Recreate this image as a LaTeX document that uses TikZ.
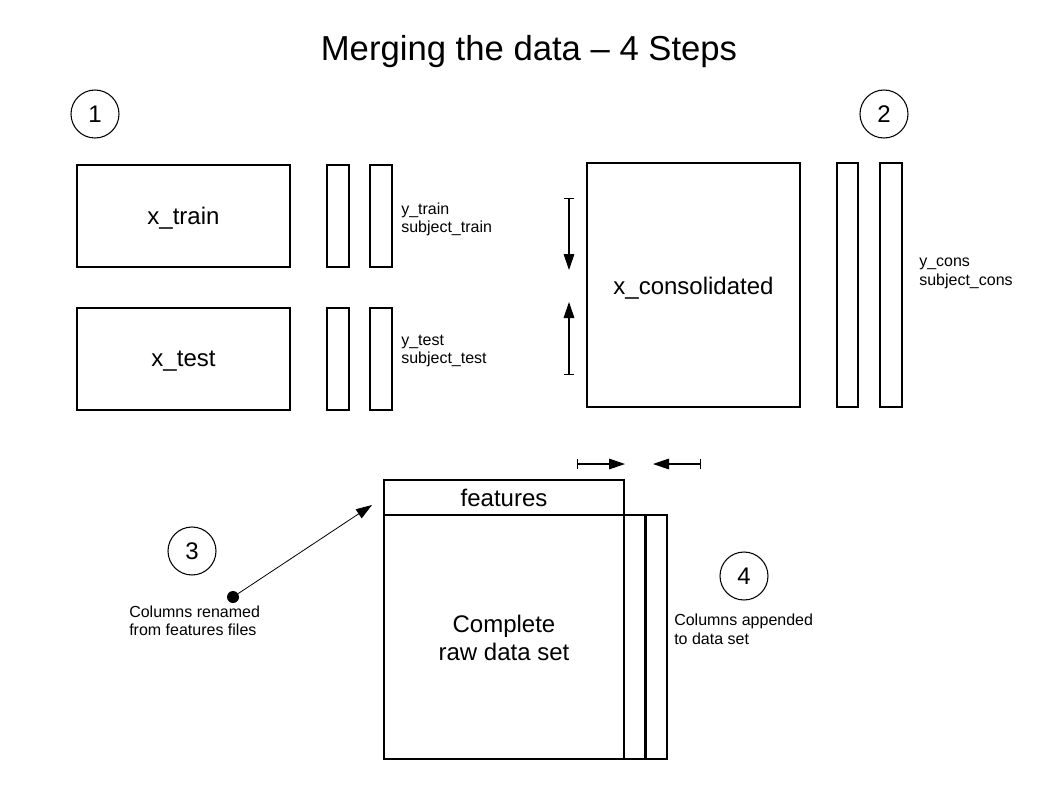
\documentclass[tikz,border=0pt]{standalone}
\usepackage{fontspec}
\setmainfont{Liberation Sans}
\usetikzlibrary{arrows.meta}
\begin{document}
\begin{tikzpicture}[x=0.75pt,y=-0.75pt,
  box/.style={draw,line width=0.9pt},
  num/.style={draw,circle,line width=0.8pt,minimum size=36pt,inner sep=0pt,font=\fontsize{18}{21}\selectfont},
  big/.style={font=\fontsize{18}{21}\selectfont},
  small/.style={font=\fontsize{12}{14}\selectfont,align=left,anchor=west,inner sep=0pt},
  arr/.style={line width=0.8pt,{Bar[width=7pt]}-{Triangle[length=12pt,width=8pt]}}]
\useasboundingbox (0,0) rectangle (1058,794);
\node[font=\fontsize{26}{30}\selectfont] (title) at (529,52) {Merging the data -- 4 Steps};
\node[num] (n1) at (95,114) {1};
\node[num] (n2) at (884,114) {2};
\node[num] (n3) at (192,551) {3};
\node[num] (n4) at (744,576) {4};
% step 1
\draw[box] (77,165) rectangle (290,267);
\node[big] (xtrain) at (183.5,218) {x\_train};
\draw[box] (77,308) rectangle (290,410);
\node[big] (xtest) at (183.5,361) {x\_test};
\draw[box] (327,165) rectangle (349,267);
\draw[box] (370,165) rectangle (392,267);
\draw[box] (327,308) rectangle (349,410);
\draw[box] (370,308) rectangle (392,410);
\node[small] (ytr) at (401,210) {y\_train};
\node[small] (str) at (401,228) {subject\_train};
\node[small] (yte) at (401,342) {y\_test};
\node[small] (ste) at (401,359) {subject\_test};
% step 2
\draw[box] (587,163) rectangle (800,407);
\node[big] (xcons) at (693.5,288) {x\_consolidated};
\draw[box] (837,163) rectangle (858,407);
\draw[box] (880,163) rectangle (902,407);
\node[small] (ycons) at (919,264) {y\_cons};
\node[small] (scons) at (919,281) {subject\_cons};
\coordinate (a1s) at (569,198); \coordinate (a1e) at (569,270);
\coordinate (a2s) at (569,375); \coordinate (a2e) at (569,302);
\draw[arr] (a1s) -- (a1e);
\draw[arr] (a2s) -- (a2e);
\coordinate (h1s) at (577,464); \coordinate (h1e) at (625,464);
\coordinate (h2s) at (701,464); \coordinate (h2e) at (653,464);
\draw[arr] (h1s) -- (h1e);
\draw[arr] (h2s) -- (h2e);
% step 3/4
\draw[box] (384,480) rectangle (624,515);
\node[big] (feat) at (504,498) {features};
\draw[box] (384,515) rectangle (624,759);
\node[big,align=center] (raw) at (504,638) {Complete\\raw data set};
\draw[box] (624,515) rectangle (645,759);
\draw[box] (646,515) rectangle (667,759);
\node[circle,fill,inner sep=0pt,minimum size=9pt] (dot) at (233,597) {};
\coordinate (tip) at (372,505);
\draw[line width=0.6pt,-{Triangle[length=12pt,width=8pt]}] (dot) -- (tip);
\node[small] (cr1) at (129,612) {Columns renamed};
\node[small] (cr2) at (129,630) {from features files};
\node[small] (ca1) at (674,621) {Columns appended};
\node[small] (ca2) at (674,639) {to data set};
\end{tikzpicture}
\end{document}
